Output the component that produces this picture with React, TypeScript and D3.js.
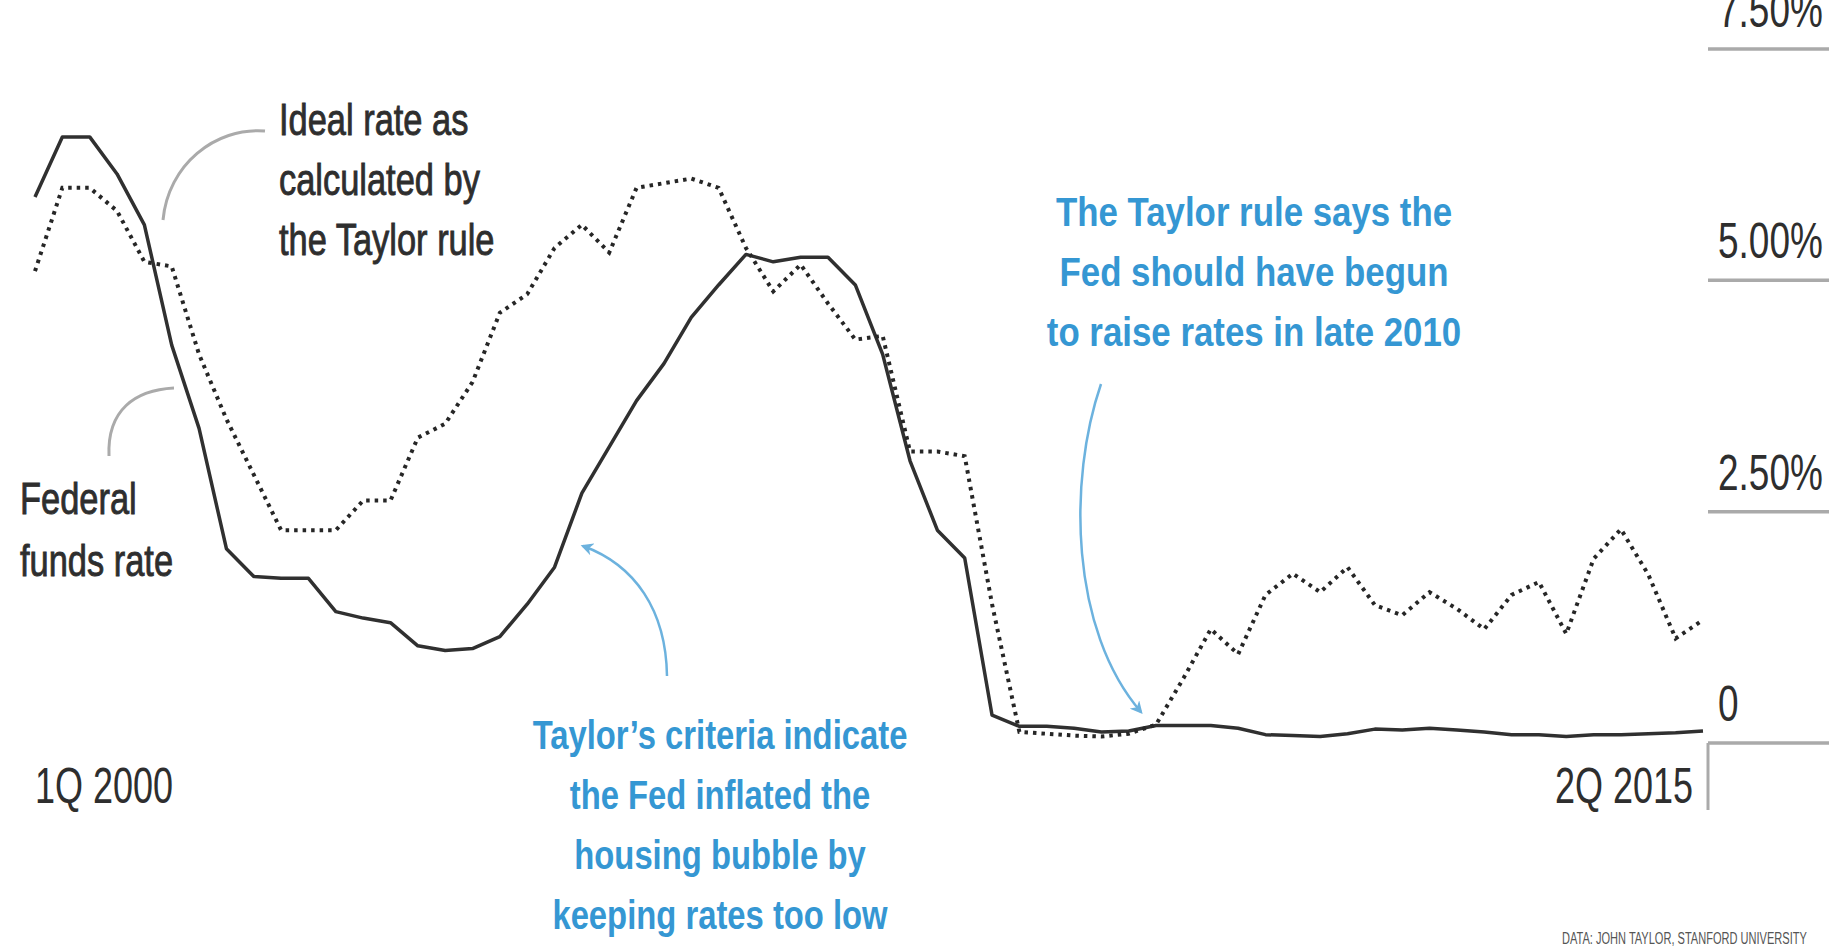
import React, { useEffect } from 'react';
import * as d3 from 'd3';

const W = 1829;
const H = 947;

// Quarterly periods, 1Q 2000 through 2Q 2015
const quarters: string[] = [];
for (let yr = 2000; yr <= 2015; yr++) {
  for (let q = 1; q <= 4; q++) {
    if (yr === 2015 && q > 2) break;
    quarters.push(`${q}Q ${yr}`);
  }
}

// Effective federal funds rate, quarterly (%)
const fedFunds = [
  5.9, 6.55, 6.55, 6.15, 5.6, 4.3, 3.4, 2.1,
  1.8, 1.78, 1.78, 1.42, 1.35, 1.3, 1.05, 1.0,
  1.02, 1.15, 1.5, 1.9, 2.7, 3.2, 3.7, 4.1,
  4.6, 4.95, 5.28, 5.2, 5.25, 5.25, 4.95, 4.2,
  3.05, 2.3, 2.0, 0.3, 0.18, 0.18, 0.16, 0.12,
  0.13, 0.19, 0.19, 0.19, 0.16, 0.09, 0.08, 0.07,
  0.1, 0.15, 0.14, 0.16, 0.14, 0.12, 0.09, 0.09,
  0.07, 0.09, 0.09, 0.1, 0.11, 0.13,
];

// Taylor-rule rate, quarterly (%)
const taylorRule = [
  5.1, 6.0, 6.0, 5.75, 5.2, 5.15, 4.2, 3.5,
  2.9, 2.3, 2.3, 2.3, 2.62, 2.62, 3.3, 3.45,
  3.9, 4.65, 4.85, 5.35, 5.6, 5.3, 6.0, 6.05,
  6.1, 6.0, 5.35, 4.88, 5.17, 4.75, 4.36, 4.4,
  3.15, 3.15, 3.1, 1.5, 0.12, 0.1, 0.08, 0.07,
  0.1, 0.2, 0.7, 1.23, 0.96, 1.6, 1.83, 1.63,
  1.9, 1.49, 1.38, 1.63, 1.45, 1.23, 1.6, 1.74,
  1.18, 1.99, 2.31, 1.82, 1.13, 1.33,
];

const yTicks = [0, 2.5, 5, 7.5];
const yTickLabels = ['0', '2.50%', '5.00%', '7.50%'];

const taylorNote = ['Ideal rate as', 'calculated by', 'the Taylor rule'];
const fedNote = ['Federal', 'funds rate'];
const bubbleNote = [
  "Taylor\u2019s criteria indicate",
  'the Fed inflated the',
  'housing bubble by',
  'keeping rates too low',
];
const raiseNote = [
  'The Taylor rule says the',
  'Fed should have begun',
  'to raise rates in late 2010',
];
const sourceNote = 'DATA: JOHN TAYLOR, STANFORD UNIVERSITY';

const FONT = "'Liberation Sans', Arial, Helvetica, sans-serif";
const INK = '#2e2e2e';
const BLUE = '#3597d3';
const BLUE_LINE = '#6cb2de';
const GREY_LINE = '#aaaaaa';

type CTextProps = {
  x: number;
  y: number;
  sx: number;
  size: number;
  fill: string;
  anchor?: 'start' | 'middle' | 'end';
  weight?: number | string;
  stroke?: number;
  spacing?: number;
  children: React.ReactNode;
};

// Horizontally condensed text
function CText({ x, y, sx, size, fill, anchor = 'start', weight = 'normal', stroke = 0, spacing = 0, children }: CTextProps) {
  return (
    <text
      transform={`translate(${x},${y}) scale(${sx},1)`}
      textAnchor={anchor}
      fontFamily={FONT}
      fontSize={size}
      fontWeight={weight}
      fill={fill}
      stroke={stroke ? fill : 'none'}
      strokeWidth={stroke}
      letterSpacing={spacing}
    >
      {children}
    </text>
  );
}

export default function App() {
  useEffect(() => {
    document.body.style.margin = '0';
    document.body.style.background = '#ffffff';
  }, []);

  const x = d3.scaleLinear().domain([0, quarters.length - 1]).range([35, 1703]);
  const y = d3.scaleLinear().domain([0, 7.5]).range([743, 49]);

  const line = d3
    .line<number>()
    .x((_, i) => x(i))
    .y((d) => y(d))
    .curve(d3.curveLinear);

  const axisX = 1708;

  return (
    <svg width={W} height={H} viewBox={`0 0 ${W} ${H}`} style={{ display: 'block', background: '#fff' }}>
      <defs>
        <marker id="blueHead" viewBox="0 0 10 10" refX="8" refY="5" markerWidth="5" markerHeight="5" orient="auto">
          <path d="M0,0 L10,5 L0,10 L3,5 z" fill={BLUE_LINE} />
        </marker>
      </defs>

      {/* Right-hand value axis: short gridlines with labels above */}
      <g>
        {yTicks.map((t, i) => (
          <g key={t}>
            <line x1={axisX} x2={W} y1={y(t)} y2={y(t)} stroke={GREY_LINE} strokeWidth={3.5} />
            <CText x={1718} y={y(t) - 22} sx={0.74} size={50} fill={INK}>
              {yTickLabels[i]}
            </CText>
          </g>
        ))}
        <line x1={axisX} x2={axisX} y1={y(0)} y2={810} stroke={GREY_LINE} strokeWidth={3} />
      </g>

      {/* Period labels */}
      <CText x={x(0)} y={803} sx={0.72} size={50} fill={INK}>
        {quarters[0]}
      </CText>
      <CText x={1693} y={803} sx={0.72} size={50} fill={INK} anchor="end">
        {quarters[quarters.length - 1]}
      </CText>

      {/* Series */}
      <path d={line(fedFunds) ?? ''} fill="none" stroke="#303030" strokeWidth={3.5} strokeLinejoin="round" />
      <path
        d={line(taylorRule) ?? ''}
        fill="none"
        stroke="#262626"
        strokeWidth={4}
        strokeDasharray="3.5 5"
      />

      {/* Black annotations with grey leaders */}
      <path d="M265 131 C215 127, 168 165, 163 220" fill="none" stroke={GREY_LINE} strokeWidth={3} />
      {taylorNote.map((t, i) => (
        <CText key={t} x={279} y={135 + i * 60} sx={0.765} size={45} fill={INK} stroke={0.9}>
          {t}
        </CText>
      ))}
      <path d="M109 456 C107 410, 135 390, 174 388" fill="none" stroke={GREY_LINE} strokeWidth={3} />
      {fedNote.map((t, i) => (
        <CText key={t} x={20} y={514 + i * 62} sx={0.765} size={45} fill={INK} stroke={0.9}>
          {t}
        </CText>
      ))}

      {/* Blue annotations with arrows */}
      <path
        d="M667 676 C666 610, 635 565, 583 546"
        fill="none"
        stroke={BLUE_LINE}
        strokeWidth={2.5}
        markerEnd="url(#blueHead)"
      />
      {bubbleNote.map((t, i) => (
        <CText key={t} x={720} y={749 + i * 60} sx={0.8} size={41} fill={BLUE} weight="bold" anchor="middle">
          {t}
        </CText>
      ))}
      <path
        d="M1101 384 C1068 480, 1070 630, 1141 712"
        fill="none"
        stroke={BLUE_LINE}
        strokeWidth={2.5}
        markerEnd="url(#blueHead)"
      />
      {raiseNote.map((t, i) => (
        <CText key={t} x={1254} y={226 + i * 60} sx={0.85} size={41} fill={BLUE} weight="bold" anchor="middle">
          {t}
        </CText>
      ))}

      {/* Source */}
      <CText x={1562} y={944} sx={0.65} size={17} fill="#555">
        {sourceNote}
      </CText>
    </svg>
  );
}
